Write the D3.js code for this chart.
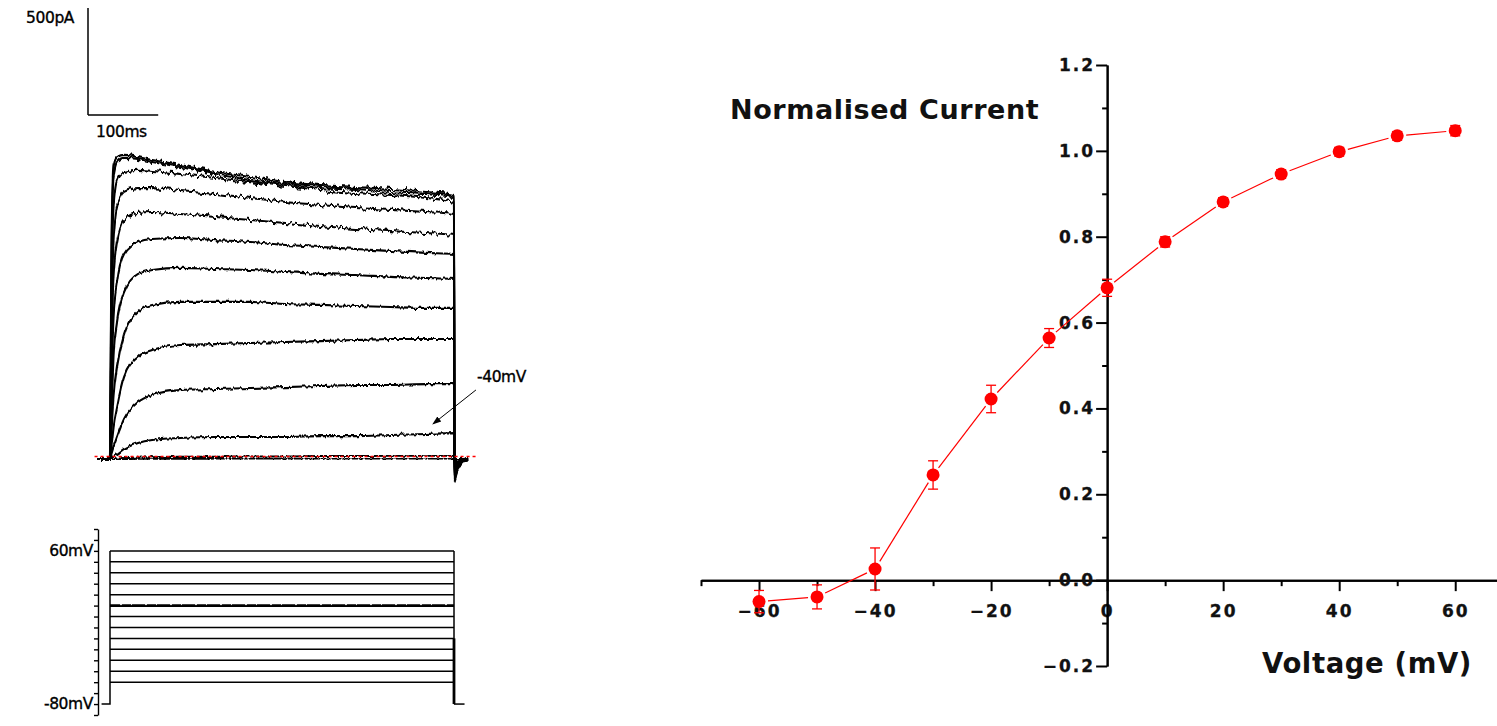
<!DOCTYPE html>
<html>
<head>
<meta charset="utf-8">
<script src="https://cdn.jsdelivr.net/npm/d3@7"></script>
<style>
body { margin: 0; background: #fff; }
svg { display: block; }
text { font-family: "DejaVu Sans", Verdana, sans-serif; }
</style>
</head>
<body>
<script>
// ---- recorded currents (left panel) ----
var stepVoltages = [-60, -50, -40, -30, -20, -10, 0, 10, 20, 30, 40, 50, 60];
var traceTimes = [0, 2, 5, 10, 20, 40, 60, 100, 150, 200, 250, 300, 350, 400, 450, 490]; // ms
var traceCurrents = [ // pA, one row per step voltage
    [0, 0, 0, 0, 0, 1, 1, 1, 2, 2, 2, 2, 2, 3, 3, 3],
    [0, 0, 0, 2, 4, 6, 8, 10, 10, 12, 12, 14, 14, 15, 15, 15],
    [0, 5, 14, 23, 47, 75, 89, 98, 103, 103, 103, 107, 107, 112, 117, 121],
    [0, 23, 56, 103, 187, 266, 299, 322, 327, 332, 336, 341, 346, 346, 350, 350],
    [0, 56, 150, 243, 383, 477, 509, 533, 537, 542, 547, 551, 556, 561, 561, 561],
    [0, 126, 290, 430, 579, 687, 720, 734, 734, 734, 724, 720, 715, 710, 706, 706],
    [0, 220, 477, 640, 780, 865, 883, 893, 888, 883, 874, 865, 860, 851, 846, 841],
    [0, 313, 664, 827, 958, 1014, 1028, 1033, 1023, 1014, 1000, 991, 981, 972, 963, 958],
    [0, 453, 850, 1014, 1117, 1150, 1154, 1145, 1131, 1117, 1103, 1089, 1075, 1065, 1056, 1047],
    [0, 593, 1014, 1178, 1248, 1266, 1266, 1252, 1238, 1220, 1201, 1187, 1173, 1164, 1154, 1145],
    [0, 734, 1178, 1304, 1341, 1351, 1346, 1332, 1313, 1294, 1276, 1257, 1243, 1234, 1220, 1201],
    [0, 874, 1318, 1388, 1407, 1402, 1388, 1365, 1332, 1304, 1285, 1271, 1262, 1248, 1238, 1224],
    [0, 967, 1365, 1411, 1421, 1411, 1397, 1374, 1341, 1318, 1294, 1280, 1271, 1262, 1248, 1234]
];
var tailTimes = [490.5, 494, 499, 506, 510];
var tailShape = [1, 0.55, 0.22, 0.04, 0];
var tailPeak = [0, 0, -15, -30, -45, -60, -70, -80, -90, -95, -100, -105, -110];
var holdingVoltage = -80;
var stepStart = 0, stepEnd = 490;
var leakLevel = 12; // pA, red reference line

// ---- I-V relation (right panel) ----
var ivVoltage = [-60, -50, -40, -30, -20, -10, 0, 10, 20, 30, 40, 50, 60];
var ivMean = [-0.05, -0.039, 0.026, 0.245, 0.422, 0.564, 0.681, 0.788, 0.881, 0.946, 0.998, 1.035, 1.047];
var ivSem = [0.026, 0.028, 0.049, 0.033, 0.032, 0.022, 0.02, 0.012, 0.01, 0.01, 0.01, 0.01, 0.012];
var xMajorTicks = [-60, -40, -20, 0, 20, 40, 60];
var xMinorTicks = [-70, -50, -30, -10, 10, 30, 50];
var yMajorTicks = [-0.2, 0, 0.2, 0.4, 0.6, 0.8, 1.0, 1.2];
var yMinorTicks = [-0.1, 0.1, 0.3, 0.5, 0.7, 0.9, 1.1];

var width = 1497, height = 726;
var svg = d3.select("body").append("svg")
    .attr("width", width)
    .attr("height", height);

var defs = svg.append("defs");
function noiseFilter(id, amount, freq, seed) {
    var f = defs.append("filter").attr("id", id)
        .attr("x", "-5%").attr("y", "-10%").attr("width", "110%").attr("height", "120%")
        .attr("color-interpolation-filters", "sRGB");
    f.append("feTurbulence").attr("type", "fractalNoise")
        .attr("baseFrequency", freq + " 0.05").attr("numOctaves", 3).attr("seed", seed).attr("result", "t");
    f.append("feColorMatrix").attr("in", "t").attr("type", "matrix")
        .attr("values", "0 0 0 0 0.5  0 1 0 0 0  0 0 1 0 0  0 0 0 0 1").attr("result", "t2");
    f.append("feDisplacementMap").attr("in", "SourceGraphic").attr("in2", "t2")
        .attr("scale", amount).attr("xChannelSelector", "R").attr("yChannelSelector", "G");
}
noiseFilter("noiseBig", 8, 0.3, 4);
noiseFilter("noiseSmall", 5, 0.3, 7);

defs.append("marker").attr("id", "arrow")
    .attr("viewBox", "0 0 10 10").attr("refX", 9).attr("refY", 5)
    .attr("markerWidth", 9).attr("markerHeight", 9).attr("orient", "auto")
    .append("path").attr("d", "M0,1.5L10,5L0,8.5Z").attr("fill", "#000");

// ================= left panel =================
var xT = d3.scaleLinear().domain([0, 490]).range([110, 454]);
var yI = d3.scaleLinear().domain([0, 1000]).range([459, 245]);
var yV = d3.scaleLinear().domain([-90, 80]).range([715, 529]);

var smallLabel = function(sel) {
    sel.attr("font-size", 15.5).attr("fill", "#000")
        .attr("stroke", "#000").attr("stroke-width", 0.35)
        .style("letter-spacing", "-0.4px");
};

// scale bars
var bar = svg.append("g").attr("stroke", "#000").attr("stroke-width", 1.5);
var barX = 88, barY = 115;
bar.append("line").attr("x1", barX).attr("x2", barX)
    .attr("y1", barY).attr("y2", barY - (yI(0) - yI(500)));
bar.append("line").attr("x1", barX).attr("x2", barX + (xT(100) - xT(0)))
    .attr("y1", barY).attr("y2", barY);
svg.append("text").attr("x", 26).attr("y", 23).text("500pA").call(smallLabel);
svg.append("text").attr("x", 96).attr("y", 137).text("100ms").call(smallLabel);

// current traces
var traceLine = d3.line()
    .x(function(d) { return xT(d[0]); })
    .y(function(d) { return yI(d[1]); })
    .curve(d3.curveMonotoneX);

var traces = stepVoltages.map(function(v, i) {
    var pts = [[-18, 0]];
    traceTimes.forEach(function(t, j) { pts.push([t, traceCurrents[i][j]]); });
    tailTimes.forEach(function(t, j) { pts.push([t, tailPeak[i] * tailShape[j]]); });
    return { v: v, pts: pts };
});

svg.append("g")
    .selectAll("path")
    .data(traces)
    .enter()
    .append("path")
    .attr("d", function(d) { return traceLine(d.pts); })
    .attr("fill", "none")
    .attr("stroke", "#000")
    .attr("stroke-width", 2.1)
    .attr("filter", function(d) { return d.v >= 20 ? "url(#noiseBig)" : "url(#noiseSmall)"; });

// red reference line
svg.append("line")
    .attr("x1", xT(-22)).attr("x2", xT(525))
    .attr("y1", yI(leakLevel)).attr("y2", yI(leakLevel))
    .attr("stroke", "#ff0000").attr("stroke-width", 1.4)
    .attr("stroke-dasharray", "3,3");

// -40 mV annotation
var i40 = stepVoltages.indexOf(-40);
var tipX = xT(460), tipY = yI(traceCurrents[i40][14]) - 10;
svg.append("line")
    .attr("x1", tipX + 43).attr("y1", tipY - 34)
    .attr("x2", tipX).attr("y2", tipY)
    .attr("stroke", "#000").attr("stroke-width", 1)
    .attr("marker-end", "url(#arrow)");
svg.append("text").attr("x", 477).attr("y", 382).text("-40mV").call(smallLabel);

// voltage protocol
var proto = svg.append("g").attr("stroke", "#000").attr("fill", "none");
proto.selectAll(".step")
    .data(stepVoltages)
    .enter()
    .append("line")
    .attr("class", "step")
    .attr("x1", xT(stepStart)).attr("x2", xT(stepEnd))
    .attr("y1", function(d) { return yV(d); })
    .attr("y2", function(d) { return yV(d); })
    .attr("stroke-width", function(d) { return d === 10 ? 2.8 : 1.5; });
// noisy-looking 10 mV step
proto.append("line")
    .attr("x1", xT(stepStart) + 10).attr("x2", xT(stepEnd) - 4)
    .attr("y1", yV(10) - 1).attr("y2", yV(10) - 1)
    .attr("stroke", "#fff").attr("stroke-width", 0.9)
    .attr("stroke-dasharray", "2,9,1,13");
proto.append("path")
    .attr("stroke-width", 1.5)
    .attr("d", "M" + xT(-12) + "," + yV(holdingVoltage) +
        "H" + xT(stepStart) + "V" + yV(d3.max(stepVoltages)));
proto.append("line")
    .attr("x1", xT(stepEnd)).attr("x2", xT(stepEnd))
    .attr("y1", yV(d3.max(stepVoltages))).attr("y2", yV(holdingVoltage))
    .attr("stroke-width", 1.5);
proto.append("line")
    .attr("x1", xT(stepEnd)).attr("x2", xT(stepEnd))
    .attr("y1", yV(-20)).attr("y2", yV(holdingVoltage))
    .attr("stroke-width", 2.8);
proto.append("line")
    .attr("x1", xT(stepEnd)).attr("x2", xT(505))
    .attr("y1", yV(holdingVoltage)).attr("y2", yV(holdingVoltage))
    .attr("stroke-width", 1.5);

var vAxis = svg.append("g")
    .attr("transform", "translate(98,0)")
    .call(d3.axisLeft(yV).tickValues(d3.range(-90, 81, 10)).tickSize(4).tickSizeOuter(0).tickFormat(""));
vAxis.selectAll("path, line").attr("stroke", "#000").attr("stroke-width", 1.4);
[60, -80].forEach(function(v) {
    svg.append("text").attr("x", 93).attr("y", yV(v) + 5)
        .attr("text-anchor", "end")
        .text(v + "mV")
        .call(smallLabel);
});

// ================= right panel =================
var xV = d3.scaleLinear().domain([-70, 67.2]).range([701, 1497]);
var yN = d3.scaleLinear().domain([-0.2, 1.2]).range([666, 65]);
var tickFont = function(sel) {
    sel.selectAll("text")
        .attr("font-family", "DejaVu Sans, Verdana, sans-serif")
        .attr("font-size", 17).attr("font-weight", "bold")
        .attr("fill", "#111").attr("stroke", "#111").attr("stroke-width", 0.3)
        .style("letter-spacing", "2px");
    sel.selectAll("path, line").attr("stroke", "#000").attr("stroke-width", 2);
};

svg.append("g")
    .attr("transform", "translate(0," + yN(0) + ")")
    .call(d3.axisBottom(xV).tickValues(xMinorTicks).tickSize(6).tickSizeOuter(0).tickFormat(""))
    .call(tickFont);
svg.append("g")
    .attr("transform", "translate(0," + yN(0) + ")")
    .call(d3.axisBottom(xV).tickValues(xMajorTicks).tickSize(11).tickSizeOuter(0).tickPadding(14)
        .tickFormat(function(d) { return d < 0 ? "\u2212" + Math.abs(d) : d; }))
    .call(tickFont);

svg.append("g")
    .attr("transform", "translate(" + xV(0) + ",0)")
    .call(d3.axisLeft(yN).tickValues(yMinorTicks).tickSize(5).tickSizeOuter(0).tickFormat(""))
    .call(tickFont);
svg.append("g")
    .attr("transform", "translate(" + xV(0) + ",0)")
    .call(d3.axisLeft(yN).tickValues(yMajorTicks).tickSize(11).tickSizeOuter(0).tickPadding(1)
        .tickFormat(function(d) { return (d < 0 ? "\u2212" : "") + d3.format(".1f")(Math.abs(d)); }))
    .call(tickFont);

svg.append("text").attr("x", 730).attr("y", 119)
    .attr("font-size", 27).attr("font-weight", "bold").attr("fill", "#111")
    .style("letter-spacing", "0.6px")
    .text("Normalised Current");
svg.append("text").attr("x", 1262).attr("y", 673)
    .attr("font-size", 27.5).attr("font-weight", "bold").attr("fill", "#111")
    .style("letter-spacing", "0.6px")
    .text("Voltage (mV)");

// connecting line with gaps round the markers
var ivPts = ivVoltage.map(function(v, i) { return [xV(v), yN(ivMean[i])]; });
var gap = 9;
var segs = d3.pairs(ivPts).map(function(p) {
    var dx = p[1][0] - p[0][0], dy = p[1][1] - p[0][1];
    var len = Math.sqrt(dx * dx + dy * dy), ux = dx / len, uy = dy / len;
    return [p[0][0] + ux * gap, p[0][1] + uy * gap, p[1][0] - ux * gap, p[1][1] - uy * gap];
});
var iv = svg.append("g").attr("stroke", "#ff0000").attr("fill", "#ff0000");
iv.selectAll(".seg")
    .data(segs)
    .enter()
    .append("line")
    .attr("class", "seg")
    .attr("x1", function(d) { return d[0]; }).attr("y1", function(d) { return d[1]; })
    .attr("x2", function(d) { return d[2]; }).attr("y2", function(d) { return d[3]; })
    .attr("stroke-width", 1.2);

var errs = iv.selectAll(".err")
    .data(ivVoltage)
    .enter()
    .append("g")
    .attr("class", "err")
    .attr("stroke-width", 1.3);
errs.append("line")
    .attr("x1", function(d) { return xV(d); }).attr("x2", function(d) { return xV(d); })
    .attr("y1", function(d, i) { return yN(ivMean[i] + ivSem[i]); })
    .attr("y2", function(d, i) { return yN(ivMean[i] - ivSem[i]); });
errs.append("line")
    .attr("x1", function(d) { return xV(d) - 5; }).attr("x2", function(d) { return xV(d) + 5; })
    .attr("y1", function(d, i) { return yN(ivMean[i] + ivSem[i]); })
    .attr("y2", function(d, i) { return yN(ivMean[i] + ivSem[i]); });
errs.append("line")
    .attr("x1", function(d) { return xV(d) - 5; }).attr("x2", function(d) { return xV(d) + 5; })
    .attr("y1", function(d, i) { return yN(ivMean[i] - ivSem[i]); })
    .attr("y2", function(d, i) { return yN(ivMean[i] - ivSem[i]); });

iv.selectAll("circle")
    .data(ivVoltage)
    .enter()
    .append("circle")
    .attr("cx", function(d) { return xV(d); })
    .attr("cy", function(d, i) { return yN(ivMean[i]); })
    .attr("r", 6.5)
    .attr("stroke", "none");
</script>
</body>
</html>
